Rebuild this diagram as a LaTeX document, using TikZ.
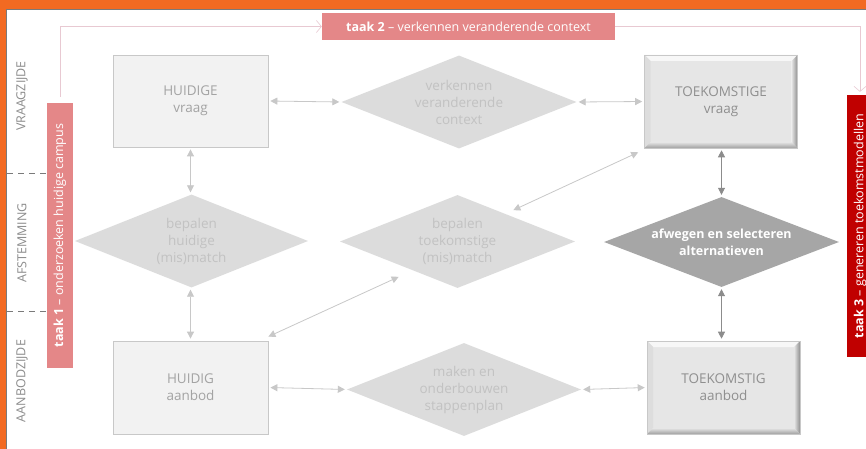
\documentclass[tikz,border=0pt]{standalone}
\usepackage{fontspec}
\setmainfont{Open Sans}
\usetikzlibrary{shapes.geometric,arrows.meta,calc}
\definecolor{frameor}{HTML}{F26A22}
\definecolor{framegr}{HTML}{7A7A7A}
\definecolor{pinklab}{HTML}{E48788}
\definecolor{redlab}{HTML}{C00000}
\definecolor{pinkln}{HTML}{E8C9D2}
\definecolor{boxfill}{HTML}{F2F2F2}
\definecolor{boxedge}{HTML}{C8C8C8}
\definecolor{boxtxt}{HTML}{A3A3A3}
\definecolor{diafill}{HTML}{DCDCDC}
\definecolor{diatxt}{HTML}{C2C2C2}
\definecolor{darkdia}{HTML}{A6A6A6}
\definecolor{sidetxt}{HTML}{8C8C8C}
\definecolor{connlt}{HTML}{C8C8C8}
\definecolor{conndk}{HTML}{8C8C8C}
\definecolor{bevface}{HTML}{E6E6E6}
\definecolor{bevtop}{HTML}{F7F7F7}
\definecolor{bevleft}{HTML}{DDDDDD}
\definecolor{bevright}{HTML}{8E8E8E}
\definecolor{bevbot}{HTML}{A0A0A0}
\definecolor{bevtxt}{HTML}{8F8F8F}
\tikzset{
  lbox/.style={rectangle, minimum width=155pt, minimum height=92pt, inner sep=0pt,
    align=center, fill=boxfill, draw=boxedge, line width=0.8pt, text=boxtxt,
    font=\fontsize{13.5}{17}\selectfont},
  bevbox/.style={rectangle, minimum width=153pt, minimum height=93pt, inner sep=0pt,
    align=center, fill=bevface, draw=boxedge, line width=0.6pt, text=bevtxt,
    font=\fontsize{13.5}{17}\selectfont,
    path picture={
      \fill[bevtop] (path picture bounding box.north west) -- (path picture bounding box.north east)
        -- ([shift={(-6pt,-6pt)}]path picture bounding box.north east)
        -- ([shift={(6pt,-6pt)}]path picture bounding box.north west) -- cycle;
      \fill[bevleft] (path picture bounding box.north west) -- (path picture bounding box.south west)
        -- ([shift={(6pt,6pt)}]path picture bounding box.south west)
        -- ([shift={(6pt,-6pt)}]path picture bounding box.north west) -- cycle;
      \shade[left color=bevface, right color=bevright] (path picture bounding box.north east) -- (path picture bounding box.south east)
        -- ([shift={(-6pt,6pt)}]path picture bounding box.south east)
        -- ([shift={(-6pt,-6pt)}]path picture bounding box.north east) -- cycle;
      \shade[top color=bevface, bottom color=bevbot] (path picture bounding box.south west) -- (path picture bounding box.south east)
        -- ([shift={(-6pt,6pt)}]path picture bounding box.south east)
        -- ([shift={(6pt,6pt)}]path picture bounding box.south west) -- cycle;
    }},
  ldia/.style={diamond, aspect=2.5, inner sep=0pt, minimum width=235pt, minimum height=93pt,
    align=center, fill=diafill, text=diatxt, font=\fontsize{13.5}{17}\selectfont},
  ddia/.style={diamond, aspect=2.5, inner sep=0pt, minimum width=235pt, minimum height=90pt,
    align=center, fill=darkdia, text=white, font=\bfseries\fontsize{12.5}{17}\selectfont},
  conn/.style={draw=connlt, line width=0.8pt, {Triangle[length=7pt,width=7pt]}-{Triangle[length=7pt,width=7pt]},
    shorten <=2pt, shorten >=2pt},
  conndark/.style={conn, draw=conndk},
  tasklab/.style={rectangle, inner sep=0pt, text=white, font=\fontsize{12.5}{15}\selectfont},
  sidelab/.style={rotate=90, text=sidetxt, font=\fontsize{12.5}{15}\selectfont},
  dashline/.style={draw=framegr, line width=0.8pt, dash pattern=on 6pt off 5pt},
  pinkconn/.style={draw=pinkln, line width=0.8pt, -{Straight Barb[length=5pt,width=12pt,line width=0.6pt]}}
}
\begin{document}
\begin{tikzpicture}[x=1pt,y=-1pt]
\useasboundingbox (0,0) rectangle (866,449);
\fill[frameor] (0,0) rectangle (866,449);
\fill[white] (6,9) rectangle (872,456);
\draw[framegr, line width=0.8pt] (6.4,456) -- (6.4,9.4) -- (872,9.4);

% side labels
\node[sidelab] (lv) at (22,96) {VRAAGZIJDE};
\node[sidelab] (la) at (22,243) {AFSTEMMING};
\node[sidelab] (lo) at (22,381) {AANBODZIJDE};

% task labels
\node[tasklab, fill=pinklab, rotate=90, minimum width=265pt, minimum height=26pt] (t1) at (60,235.5)
  {\textbf{taak 1} -- onderzoeken huidige campus};
\node[tasklab, fill=pinklab, minimum width=293pt, minimum height=27pt] (t2) at (468.5,26.5)
  {\textbf{taak 2} -- verkennen veranderende context};
\node[tasklab, fill=redlab, rotate=90, minimum width=262pt, minimum height=26pt] (t3) at (860,226)
  {\textbf{taak 3} -- genereren toekomstmodellen};

\coordinate (d1) at (7,173);
\coordinate (d2) at (7,311);
\draw[dashline] (d1) -- (d1 -| t1.north);
\draw[dashline] (d2) -- (d2 -| t1.north);

\draw[pinkconn, shorten <=6pt] (t1.east) |- (t2.west);
\draw[pinkconn, shorten >=3pt] (t2.east) -| (t3.east);

% main nodes
\node[lbox] (hv) at (190.5,101) {HUIDIGE\\vraag};
\node[bevbox] (tv) at (721,101.5) {TOEKOMSTIGE\\vraag};
\node[ldia] (dvc) at (459,102) {verkennen\\veranderende\\context};
\node[ldia, minimum width=233pt] (dhm) at (191.5,241) {bepalen\\huidige\\(mis)match};
\node[ldia] (dtm) at (457.5,241.5) {bepalen\\toekomstige\\(mis)match};
\node[ddia] (das) at (721.5,242) {afwegen en selecteren\\alternatieven};
\node[lbox, minimum height=93pt] (ha) at (190.5,387.5) {HUIDIG\\aanbod};
\node[ldia, minimum width=234pt] (dms) at (464,389.5) {maken en\\onderbouwen\\stappenplan};
\node[bevbox] (ta) at (723.5,387.5) {TOEKOMSTIG\\aanbod};

% connectors
\draw[conn] (hv.east) -- (dvc.west);
\draw[conn] (dvc.east) -- (tv.west);
\draw[conn] (hv.south) -- (hv.south |- dhm.north);
\draw[conn] (hv.south |- dhm.south) -- (ha.north);
\draw[conn, shorten <=0pt, shorten >=0pt] ([yshift=4pt]ha.north east) -- ([yshift=-12pt]dtm.south west);
\draw[conn, shorten <=0pt, shorten >=0pt] ([shift={(-3pt,8pt)}]dtm.north east) -- ([shift={(-6pt,-4pt)}]tv.south west);
\draw[conndark] (tv.south -| das.north) -- (das.north);
\draw[conndark] (das.south) -- (das.south |- ta.north);
\draw[conn] (ha.east) -- (dms.west);
\draw[conn] (dms.east) -- (ta.west);
\end{tikzpicture}
\end{document}
